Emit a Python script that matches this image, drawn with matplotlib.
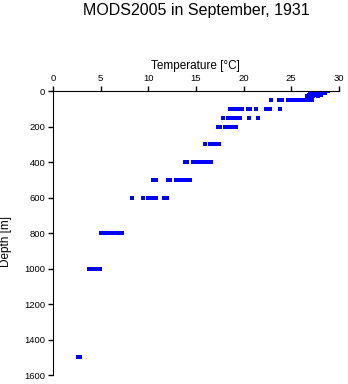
import matplotlib
matplotlib.use('Agg')
import matplotlib.pyplot as plt

plt.rcParams['font.family'] = ['Liberation Sans', 'DejaVu Sans']

# standard depths of the cast [m]
depths = [0, 10, 20, 30, 50, 100, 150, 200, 300, 400, 500, 600, 800, 1000, 1500]

# temperature readings at each depth [degC]
t0 = [27.3, 27.6, 27.9, 28.1, 28.3, 28.5, 28.7, 28.9]
t10 = [27.0, 27.2, 27.5, 27.8, 28.0, 28.2, 28.5]
t20 = [26.9, 27.1, 27.3, 27.6, 27.9, 28.1]
t30 = [26.7, 26.9, 27.1, 27.3, 27.8]
t50 = [22.9, 23.7, 24.0, 24.7, 24.9, 25.3, 25.6, 25.9, 26.2, 26.5, 26.8, 27.2]
t100 = [18.6, 18.8, 19.2, 19.6, 19.8, 20.5, 20.7, 21.3, 22.3, 22.6, 22.8, 23.8]
t150 = [17.8, 18.4, 18.6, 19.0, 19.3, 19.6, 20.6, 21.5]
t200 = [17.3, 17.5, 18.1, 18.4, 18.7, 19.0, 19.2]
t300 = [16.0, 16.5, 16.8, 17.1, 17.4]
t400 = [13.9, 14.1, 14.7, 15.0, 15.3, 15.5, 15.8, 16.1, 16.4, 16.6]
t500 = [10.5, 10.8, 12.1, 12.3, 12.9, 13.2, 13.5, 13.8, 14.1, 14.4]
t600 = [8.3, 9.5, 10.0, 10.3, 10.6, 10.8, 11.6, 12.0]
t800 = [5.0, 5.3, 5.6, 5.8, 6.1, 6.4, 6.7, 7.0, 7.2]
t1000 = [3.8, 4.0, 4.4, 4.6, 4.9]
t1500 = [2.6, 2.8]

temps = [t0, t10, t20, t30, t50, t100, t150, t200, t300, t400, t500, t600, t800, t1000, t1500]

xticks = [0, 5, 10, 15, 20, 25, 30]
yticks = [0, 200, 400, 600, 800, 1000, 1200, 1400, 1600]

fig = plt.figure(figsize=(3.48, 3.84), dpi=100)
ax = fig.add_axes([0.152, 0.023, 0.822, 0.740])

for d, tl in zip(depths, temps):
	ax.plot(tl, [d]*len(tl), linestyle='none', marker='s', markersize=2.5,
			color='#0000ff', markeredgewidth=0, antialiased=False)

ax.set_xlim(0, 30)
ax.set_ylim(1600, 0)
ax.xaxis.tick_top()
ax.xaxis.set_label_position('top')
ax.set_xticks(xticks)
ax.set_yticks(yticks)
ax.tick_params(direction='out', length=3.5, width=1, labelsize=6.8, pad=2)
ax.spines['right'].set_visible(False)
ax.spines['bottom'].set_visible(False)
ax.set_xlabel('Temperature [°C]', fontsize=8.5, labelpad=4)
ax.set_ylabel('Depth [m]', fontsize=8.5)
ax.yaxis.set_label_coords(-0.142, 0.47)

fig.text(0.563, 0.992, 'MODS2005 in September, 1931', ha='center', va='top', fontsize=11.5)

fig.savefig('out.png', dpi=100)
